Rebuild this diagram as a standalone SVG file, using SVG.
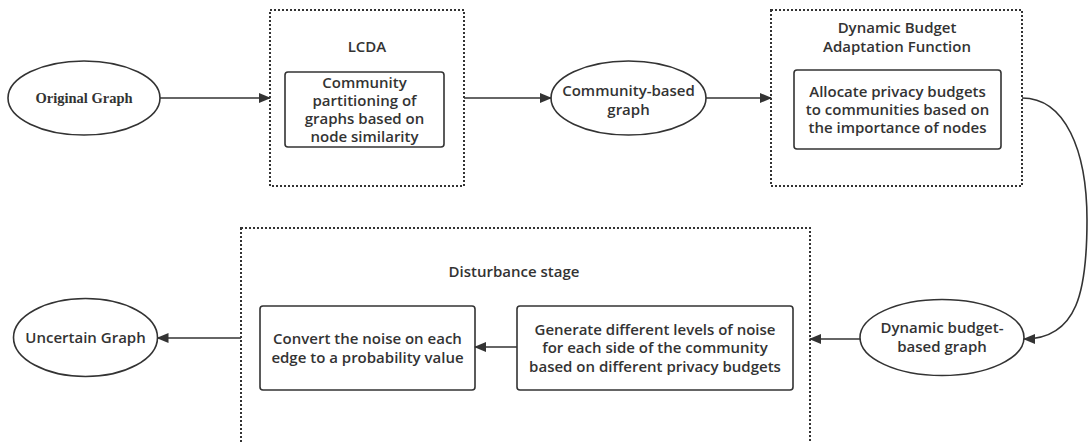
<svg xmlns="http://www.w3.org/2000/svg" width="1088" height="443" viewBox="0 0 1088 443">
<defs>
<marker id="ah" markerWidth="12" markerHeight="10" refX="11" refY="5" orient="auto" markerUnits="userSpaceOnUse">
<path d="M0,0 L12,5 L0,10 Z" fill="#333"/>
</marker>
<style>
.bg{fill:#fff}
.el{fill:#fff;stroke:#333;stroke-width:1.6}
.box{fill:#fff;stroke:#333;stroke-width:1.6}
.grp{fill:none;stroke:#333;stroke-width:2;stroke-dasharray:2 2}
.t{font-family:"Open Sans","Noto Sans",sans-serif;font-size:15px;font-weight:600;fill:#333;text-anchor:middle}
.ts{font-family:"Liberation Serif",serif;font-size:14.5px;font-weight:bold;fill:#333;text-anchor:middle}
.c{fill:none;stroke:#333;stroke-width:1.6;marker-end:url(#ah)}
</style>
</defs>
<rect class="bg" width="1088" height="443"/>
<g id="lcda-group">
<rect class="grp" x="270" y="10" width="194" height="176"/>
<text class="t" x="367" y="52">LCDA</text>
</g>
<g id="dbaf-group">
<rect class="grp" x="771" y="10" width="251" height="176"/>
<text class="t" x="897" y="33">Dynamic Budget</text>
<text class="t" x="897" y="52">Adaptation Function</text>
</g>
<g id="disturbance-group">
<rect class="grp" x="241" y="228" width="569" height="230"/>
<text class="t" x="514" y="277">Disturbance stage</text>
</g>
<g id="original-graph">
<ellipse class="el" cx="84" cy="98" rx="76" ry="37"/>
<text class="ts" x="84" y="103">Original Graph</text>
</g>
<g id="community-partitioning">
<rect class="box" x="285" y="72" width="159" height="75" rx="3"/>
<text class="t" x="364.5" y="88">Community</text>
<text class="t" x="364.5" y="106">partitioning of</text>
<text class="t" x="364.5" y="124">graphs based on</text>
<text class="t" x="364.5" y="142">node similarity</text>
</g>
<g id="community-based-graph">
<ellipse class="el" cx="628.5" cy="98" rx="77.5" ry="37"/>
<text class="t" x="628.5" y="96">Community-based</text>
<text class="t" x="628.5" y="115">graph</text>
</g>
<g id="allocate-budgets">
<rect class="box" x="794" y="70" width="207" height="79" rx="3"/>
<text class="t" x="897.5" y="97">Allocate privacy budgets</text>
<text class="t" x="897.5" y="115">to communities based on</text>
<text class="t" x="897.5" y="133">the importance of nodes</text>
</g>
<g id="dynamic-budget-graph">
<ellipse class="el" cx="942" cy="337.5" rx="82" ry="38"/>
<text class="t" x="942" y="333">Dynamic budget-</text>
<text class="t" x="942" y="352">based graph</text>
</g>
<g id="generate-noise">
<rect class="box" x="517" y="306" width="276" height="84" rx="3"/>
<text class="t" x="655" y="335">Generate different levels of noise</text>
<text class="t" x="655" y="353">for each side of the community</text>
<text class="t" x="655" y="372">based on different privacy budgets</text>
</g>
<g id="convert-noise">
<rect class="box" x="260" y="306" width="215" height="84" rx="3"/>
<text class="t" x="367.5" y="344">Convert the noise on each</text>
<text class="t" x="367.5" y="363">edge to a probability value</text>
</g>
<g id="uncertain-graph">
<ellipse class="el" cx="85.5" cy="337.5" rx="72" ry="39"/>
<text class="t" x="85.5" y="343">Uncertain Graph</text>
</g>
<g id="connectors">
<path class="c" d="M160,98 L270,98"/>
<path class="c" d="M464,98 L551,98"/>
<path class="c" d="M706,98 L771,98"/>
<path class="c" d="M1022,98 C1065,98 1087,150 1087,220 C1087,290 1078,339 1024,339"/>
<path class="c" d="M860,339 L810,339"/>
<path class="c" d="M517,347 L475,347"/>
<path class="c" d="M241,338 L157.5,338"/>
</g>
</svg>
